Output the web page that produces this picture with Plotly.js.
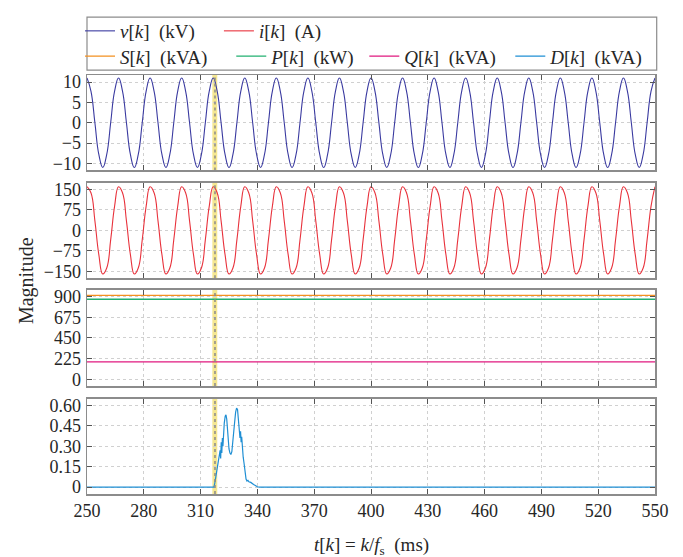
<!DOCTYPE html>
<html>
<head>
<meta charset="utf-8">
<script src="https://cdn.plot.ly/plotly-3.0.1.min.js"></script>
<style>html,body{margin:0;padding:0;background:#fff;}#chart{width:683px;height:557px;}</style>
</head>
<body>
<div id="chart"></div>
<script>
// Sample times (ms), eight per 60 Hz cycle
const tWave = [
  250, 252.08, 254.17, 256.25, 258.33, 260.42, 262.5, 264.58,
  266.67, 268.75, 270.83, 272.92, 275, 277.08, 279.17, 281.25,
  283.33, 285.42, 287.5, 289.58, 291.67, 293.75, 295.83, 297.92,
  300, 302.08, 304.17, 306.25, 308.33, 310.42, 312.5, 314.58,
  316.67, 318.75, 320.83, 322.92, 325, 327.08, 329.17, 331.25,
  333.33, 335.42, 337.5, 339.58, 341.67, 343.75, 345.83, 347.92,
  350, 352.08, 354.17, 356.25, 358.33, 360.42, 362.5, 364.58,
  366.67, 368.75, 370.83, 372.92, 375, 377.08, 379.17, 381.25,
  383.33, 385.42, 387.5, 389.58, 391.67, 393.75, 395.83, 397.92,
  400, 402.08, 404.17, 406.25, 408.33, 410.42, 412.5, 414.58,
  416.67, 418.75, 420.83, 422.92, 425, 427.08, 429.17, 431.25,
  433.33, 435.42, 437.5, 439.58, 441.67, 443.75, 445.83, 447.92,
  450, 452.08, 454.17, 456.25, 458.33, 460.42, 462.5, 464.58,
  466.67, 468.75, 470.83, 472.92, 475, 477.08, 479.17, 481.25,
  483.33, 485.42, 487.5, 489.58, 491.67, 493.75, 495.83, 497.92,
  500, 502.08, 504.17, 506.25, 508.33, 510.42, 512.5, 514.58,
  516.67, 518.75, 520.83, 522.92, 525, 527.08, 529.17, 531.25,
  533.33, 535.42, 537.5, 539.58, 541.67, 543.75, 545.83, 547.92,
  550
];
// v[k] (kV)
const vValues = [
  11, 7.8, 0, -7.8, -11, -7.8, 0, 7.8,
  11, 7.8, 0, -7.8, -11, -7.8, 0, 7.8,
  11, 7.8, 0, -7.8, -11, -7.8, 0, 7.8,
  11, 7.8, 0, -7.8, -11, -7.8, 0, 7.8,
  11, 7.8, 0, -7.8, -11, -7.8, 0, 7.8,
  11, 7.8, 0, -7.8, -11, -7.8, 0, 7.8,
  11, 7.8, 0, -7.8, -11, -7.8, 0, 7.8,
  11, 7.8, 0, -7.8, -11, -7.8, 0, 7.8,
  11, 7.8, 0, -7.8, -11, -7.8, 0, 7.8,
  11, 7.8, 0, -7.8, -11, -7.8, 0, 7.8,
  11, 7.8, 0, -7.8, -11, -7.8, 0, 7.8,
  11, 7.8, 0, -7.8, -11, -7.8, 0, 7.8,
  11, 7.8, 0, -7.8, -11, -7.8, 0, 7.8,
  11, 7.8, 0, -7.8, -11, -7.8, 0, 7.8,
  11, 7.8, 0, -7.8, -11, -7.8, 0, 7.8,
  11, 7.8, 0, -7.8, -11, -7.8, 0, 7.8,
  11, 7.8, 0, -7.8, -11, -7.8, 0, 7.8,
  11, 7.8, 0, -7.8, -11, -7.8, 0, 7.8,
  11
];
// i[k] (A)
const iValues = [
  160, 138, 35, -89, -160, -138, -35, 89,
  160, 138, 35, -89, -160, -138, -35, 89,
  160, 138, 35, -89, -160, -138, -35, 89,
  160, 138, 35, -89, -160, -138, -35, 89,
  160, 138, 35, -89, -160, -138, -35, 89,
  160, 138, 35, -89, -160, -138, -35, 89,
  160, 138, 35, -89, -160, -138, -35, 89,
  160, 138, 35, -89, -160, -138, -35, 89,
  160, 138, 35, -89, -160, -138, -35, 89,
  160, 138, 35, -89, -160, -138, -35, 89,
  160, 138, 35, -89, -160, -138, -35, 89,
  160, 138, 35, -89, -160, -138, -35, 89,
  160, 138, 35, -89, -160, -138, -35, 89,
  160, 138, 35, -89, -160, -138, -35, 89,
  160, 138, 35, -89, -160, -138, -35, 89,
  160, 138, 35, -89, -160, -138, -35, 89,
  160, 138, 35, -89, -160, -138, -35, 89,
  160, 138, 35, -89, -160, -138, -35, 89,
  160
];
// Powers (constant over window)
const tPower = [250, 550];
const sValues = [915, 915];
const pValues = [873, 873];
const qValues = [190, 190];
// D[k] (kVA)
const tD = [250, 317, 317.5, 318, 318.5, 319, 319.5, 320, 320.3, 320.6, 320.9, 321.2, 321.5, 321.8, 322.1, 322.5,
  323, 323.4, 323.8, 324.2, 324.6, 325, 325.5, 326, 326.5, 327, 327.5, 328, 328.5, 329, 329.5, 330,
  330.5, 330.8, 331.1, 331.4, 331.7, 332, 332.5, 333, 333.5, 334, 334.5, 335, 335.5, 336.5, 338, 339, 340, 341, 550];
const dValues = [0, 0, 0.03, 0.07, 0.11, 0.15, 0.19, 0.22, 0.27, 0.21, 0.33, 0.25, 0.36, 0.30, 0.42, 0.47,
  0.52, 0.53, 0.50, 0.42, 0.34, 0.28, 0.25, 0.24, 0.26, 0.32, 0.40, 0.48, 0.55, 0.58, 0.57, 0.50,
  0.42, 0.36, 0.41, 0.33, 0.37, 0.28, 0.22, 0.17, 0.10, 0.06, 0.045, 0.05, 0.04, 0.035, 0.02, 0.01, 0.003, 0, 0];
// Marked instant (ms)
const markBand = [316.2, 318.8];
const markLine = 317.6;

// Ticks
const xTicks = [250, 280, 310, 340, 370, 400, 430, 460, 490, 520, 550];
const vTicks = [-10, -5, 0, 5, 10];
const iTicks = [-150, -75, 0, 75, 150];
const pTicks = [0, 225, 450, 675, 900];
const dTicks = [0, 0.15, 0.30, 0.45, 0.60];
const dTickText = ['0', '0.15', '0.30', '0.45', '0.60'];

const SERIF = 'Liberation Serif';
const TXT = '#262626';

const traces = [
  {x: tWave, y: vValues, xaxis: 'x', yaxis: 'y', mode: 'lines', line: {color: '#3a3aa0', width: 1.1, shape: 'spline', smoothing: 1.3},
   name: '<i>v</i>[<i>k</i>]\u2002(kV)\u2003', legend: 'legend'},
  {x: tWave, y: iValues, xaxis: 'x2', yaxis: 'y2', mode: 'lines', line: {color: '#e8323c', width: 1.1, shape: 'spline', smoothing: 1.3},
   name: '<i>i</i>[<i>k</i>]\u2002(A)', legend: 'legend'},
  {x: tPower, y: sValues, xaxis: 'x3', yaxis: 'y3', mode: 'lines', line: {color: '#f39020', width: 1.3},
   name: '<i>S</i>[<i>k</i>]\u2002(kVA)\u2003', legend: 'legend2'},
  {x: tPower, y: pValues, xaxis: 'x3', yaxis: 'y3', mode: 'lines', line: {color: '#22b070', width: 1.3},
   name: '<i>P</i>[<i>k</i>]\u2002(kW)\u00A0', legend: 'legend2'},
  {x: tPower, y: qValues, xaxis: 'x3', yaxis: 'y3', mode: 'lines', line: {color: '#e0187f', width: 1.3},
   name: '<i>Q</i>[<i>k</i>]\u2002(kVA)\u00A0\u00A0', legend: 'legend2'},
  {x: tD, y: dValues, xaxis: 'x4', yaxis: 'y4', mode: 'lines', line: {color: '#1f8fd4', width: 1.2},
   name: '<i>D</i>[<i>k</i>]\u2002(kVA)', legend: 'legend2'}
];

function xAxis(anchor, showLabels) {
  const a = {
    anchor: anchor, range: [250, 550], tickvals: xTicks, showticklabels: showLabels,
    ticks: 'inside', ticklen: 5, tickwidth: 1, tickcolor: '#555', mirror: 'ticks',
    showline: true, linecolor: '#8c8c8c', linewidth: 1.5,
    showgrid: true, gridcolor: '#d0d0d0', griddash: 'dot', gridwidth: 1, zeroline: false,
    tickfont: {family: SERIF, size: 18, color: TXT}
  };
  if (anchor !== 'y') a.matches = 'x';
  return a;
}
function yAxis(anchor, domain, range, vals, text) {
  const a = {
    anchor: anchor, domain: domain, range: range, tickvals: vals,
    ticks: 'inside', ticklen: 5, tickwidth: 1, tickcolor: '#555', mirror: 'ticks',
    showline: true, linecolor: '#8c8c8c', linewidth: 1.5,
    showgrid: true, gridcolor: '#d0d0d0', griddash: 'dot', gridwidth: 1, zeroline: false,
    tickfont: {family: SERIF, size: 18, color: TXT}, ticklabelstandoff: 1
  };
  if (text) a.ticktext = text;
  return a;
}

const shapes = [];
['x', 'x2', 'x3', 'x4'].forEach((xa, i) => {
  const ya = i === 0 ? 'y' : 'y' + (i + 1);
  shapes.push({type: 'rect', xref: xa, yref: ya + ' domain', x0: markBand[0], x1: markBand[1], y0: 0, y1: 1,
    fillcolor: '#f2df6e', opacity: 0.75, line: {width: 0}, layer: 'below'});
  shapes.push({type: 'line', xref: xa, yref: ya + ' domain', x0: markLine, x1: markLine, y0: 0, y1: 1,
    line: {color: '#8a8a8a', width: 1.5, dash: 'dot'}, layer: 'above'});
});
// legend frame
shapes.push({type: 'rect', xref: 'paper', yref: 'paper', x0: 0, x1: 1.003, y0: 1.0117, y1: 1.138,
  line: {color: '#8c8c8c', width: 1.2}, fillcolor: 'rgba(0,0,0,0)'});

const legendBase = {
  orientation: 'h', x: -0.0123, xanchor: 'left', yanchor: 'middle', bgcolor: 'rgba(0,0,0,0)', borderwidth: 0,
  font: {family: SERIF, size: 19, color: TXT}, itemwidth: 30, tracegroupgap: 0
};

const layout = {
  width: 683, height: 557,
  margin: {l: 87, r: 28, t: 67, b: 63},
  paper_bgcolor: '#fff', plot_bgcolor: '#fff',
  showlegend: true,
  legend: Object.assign({}, legendBase, {y: 1.105}),
  legend2: Object.assign({}, legendBase, {y: 1.0445}),
  xaxis: xAxis('y', false),
  xaxis2: xAxis('y2', false),
  xaxis3: xAxis('y3', false),
  xaxis4: xAxis('y4', true),
  yaxis: yAxis('x', [0.7721, 1], [-11.75, 11.75], vTicks),
  yaxis2: yAxis('x2', [0.5152, 0.7431], [-175, 175], iTicks),
  yaxis3: yAxis('x3', [0.2576, 0.4871], [-75, 975], pTicks),
  yaxis4: yAxis('x4', [0, 0.2279], [-0.05, 0.65], dTicks, dTickText),
  shapes: shapes,
  annotations: [
    {text: 'Magnitude', xref: 'paper', yref: 'paper', x: -0.106, y: 0.51, textangle: -90, showarrow: false,
     xanchor: 'center', yanchor: 'middle', font: {family: SERIF, size: 20, color: TXT}},
    {text: '<i>t</i>[<i>k</i>] = <i>k</i>/<i>f</i><sub>s</sub>\u2002(ms)', xref: 'paper', yref: 'paper', x: 0.5, y: -0.123,
     showarrow: false, xanchor: 'center', yanchor: 'middle', font: {family: SERIF, size: 19, color: TXT}}
  ]
};

Plotly.newPlot('chart', traces, layout, {displayModeBar: false, staticPlot: true});
</script>
</body>
</html>
